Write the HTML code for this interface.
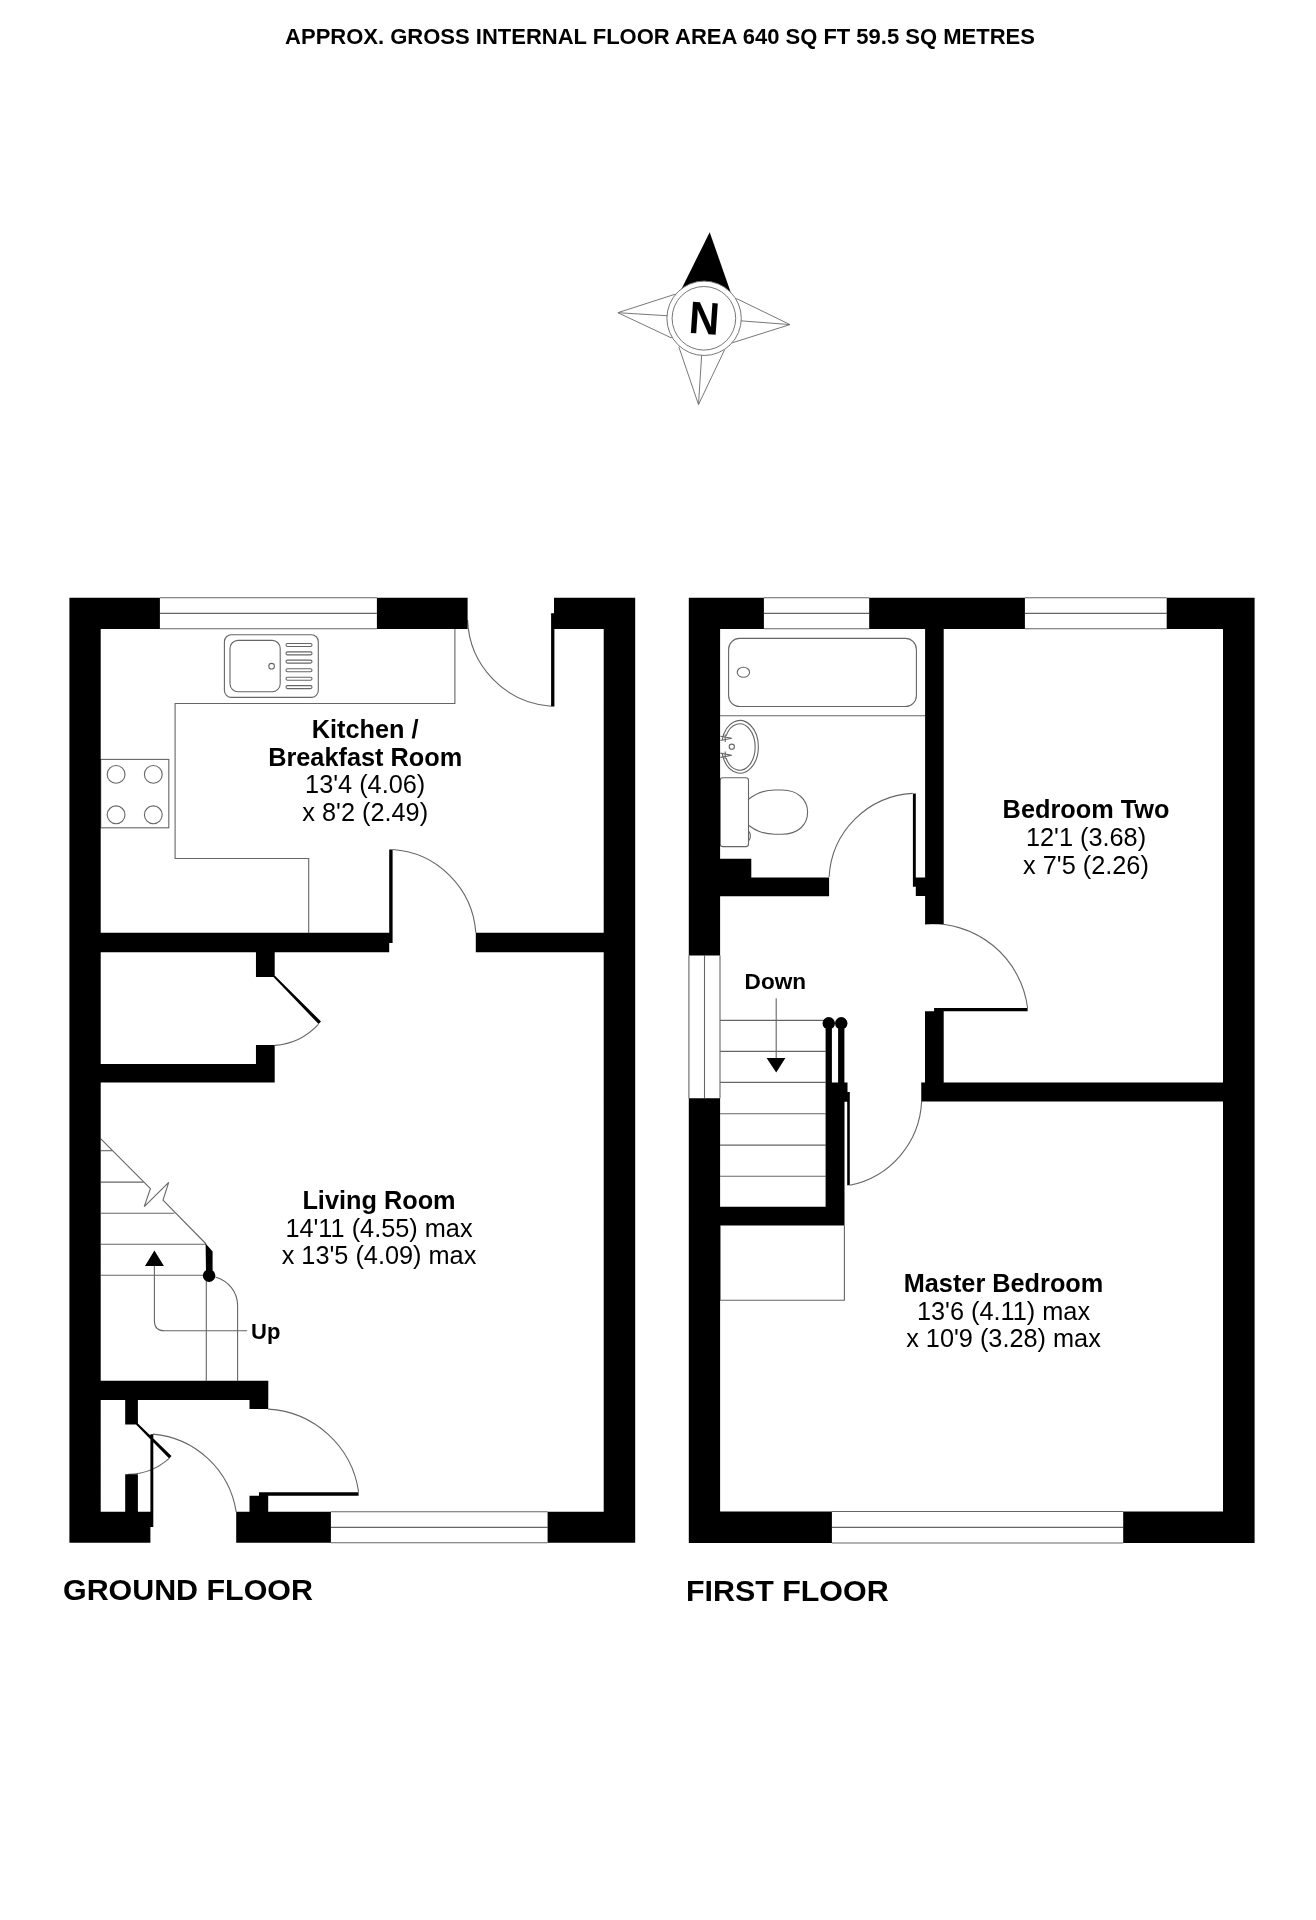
<!DOCTYPE html>
<html><head><meta charset="utf-8"><style>
html,body{margin:0;padding:0;background:#fff;}
svg{display:block;filter:grayscale(1);} 
</style></head><body>
<svg width="1316" height="1920" viewBox="0 0 1316 1920">
<rect width="1316" height="1920" fill="#fff"/>
<g fill="none" stroke="#666" stroke-width="1.1">
<line x1="159.9" y1="597.7" x2="376.9" y2="597.7"/>
<line x1="159.9" y1="613.4" x2="376.9" y2="613.4"/>
<line x1="159.9" y1="628.7" x2="376.9" y2="628.7"/>
<line x1="330.9" y1="1511.7" x2="547.6" y2="1511.7"/>
<line x1="330.9" y1="1527.4" x2="547.6" y2="1527.4"/>
<line x1="330.9" y1="1542.8" x2="547.6" y2="1542.8"/>
<path d="M467.6,620.0 A89.8,89.8 0 0 0 551.2,706.2"/>
<path d="M392.6,849.5 A89.6,89.6 0 0 1 475.8,932.7"/>
<path d="M318.4,1024.3 A66.7,66.7 0 0 1 274.7,1045.4"/>
<path d="M169.2,1458.3 A62.9,62.9 0 0 1 128.3,1474.2"/>
<path d="M152.9,1434.1 A92.2,92.2 0 0 1 236.2,1511.9"/>
<path d="M268.2,1409.1 A96.8,96.8 0 0 1 358.6,1491.8"/>
<rect x="224.4" y="634.7" width="93.9" height="62.7" rx="7"/>
<rect x="230" y="640.4" width="50.2" height="51.3" rx="8"/>
<circle cx="271.6" cy="666.2" r="2.8"/>
<rect x="286" y="643.5" width="26" height="3" rx="1.5"/>
<rect x="286" y="651.9" width="26" height="3" rx="1.5"/>
<rect x="286" y="660.1" width="26" height="3" rx="1.5"/>
<rect x="286" y="668.8" width="26" height="3" rx="1.5"/>
<rect x="286" y="677.2" width="26" height="3" rx="1.5"/>
<rect x="286" y="685.6" width="26" height="3" rx="1.5"/>
<path d="M454.9,628.6 V703.5 H175.1 V858.5 H308.7 V932.8"/>
<rect x="100.7" y="759.4" width="68.1" height="68.4"/>
<circle cx="116.1" cy="774.4" r="8.9"/>
<circle cx="116.1" cy="814.8" r="8.9"/>
<circle cx="153.3" cy="774.4" r="8.9"/>
<circle cx="153.3" cy="814.8" r="8.9"/>
<line x1="100.7" y1="1150.7" x2="112.2" y2="1150.7"/>
<line x1="100.7" y1="1182.1" x2="143.6" y2="1182.1"/>
<line x1="100.7" y1="1213.2" x2="174.4" y2="1213.2"/>
<line x1="100.7" y1="1244.2" x2="206.1" y2="1244.2"/>
<line x1="100.7" y1="1275.3" x2="204.0" y2="1275.3"/>
<path d="M100.85,1138.9 L150.4,1188.7 L144.2,1206.6 L168.7,1182.4 L163,1200.1 L206.1,1244"/>
<line x1="206.3" y1="1275.0" x2="206.3" y2="1380.8"/>
<path d="M215.4,1277 C228,1281 237.6,1291 237.6,1306 V1380.8"/>
<path d="M154.4,1265 V1320.7 Q154.4,1330.7 164.4,1330.7 H247.2"/>
<line x1="763.9" y1="597.7" x2="869.2" y2="597.7"/>
<line x1="1024.9" y1="597.7" x2="1166.7" y2="597.7"/>
<line x1="763.9" y1="613.4" x2="869.2" y2="613.4"/>
<line x1="1024.9" y1="613.4" x2="1166.7" y2="613.4"/>
<line x1="763.9" y1="628.7" x2="869.2" y2="628.7"/>
<line x1="1024.9" y1="628.7" x2="1166.7" y2="628.7"/>
<line x1="688.9" y1="955.5" x2="688.9" y2="1098.3"/>
<line x1="704.5" y1="955.5" x2="704.5" y2="1098.3"/>
<line x1="720.0" y1="955.5" x2="720.0" y2="1098.3"/>
<line x1="831.9" y1="1511.5" x2="1123.2" y2="1511.5"/>
<line x1="831.9" y1="1527.4" x2="1123.2" y2="1527.4"/>
<line x1="831.9" y1="1543.0" x2="1123.2" y2="1543.0"/>
<path d="M829.1,877.0 A88.5,88.5 0 0 1 912.7,793.4"/>
<path d="M925.0,924.1 A96.1,96.1 0 0 1 1027.6,1008.0"/>
<line x1="720.1" y1="1020.4" x2="825.7" y2="1020.4"/>
<line x1="720.1" y1="1051.4" x2="825.7" y2="1051.4"/>
<line x1="720.1" y1="1082.4" x2="825.7" y2="1082.4"/>
<line x1="720.1" y1="1113.8" x2="825.7" y2="1113.8"/>
<line x1="720.1" y1="1145.1" x2="825.7" y2="1145.1"/>
<line x1="720.1" y1="1176.2" x2="825.7" y2="1176.2"/>
<path d="M849.8,1185.2 A89.3,89.3 0 0 0 921.6,1101.6 V1082.6"/>
<path d="M720.1,1225.5 V1300.3 H844.4 V1225.5"/>
<line x1="776.2" y1="998.2" x2="776.2" y2="1059.0"/>
<rect x="728.6" y="638.4" width="187.8" height="68.1" rx="11"/>
<ellipse cx="743.4" cy="672.3" rx="6.2" ry="5"/>
<line x1="720.1" y1="715.8" x2="925.1" y2="715.8"/>
<path d="M722.2,740 A18.4,26.3 0 1 1 722.2,753.6"/>
<path d="M726.0,736 A15.5,23.2 0 1 1 726.0,758"/>
<circle cx="731.8" cy="746.7" r="2.6"/>
<path d="M720.5,736.2 L731.8,738.3 L720.5,740.5"/>
<path d="M720.5,753.1 L731.8,755.2 L720.5,757.4"/>
<line x1="725.2" y1="734.5" x2="725.2" y2="742.0"/>
<line x1="725.2" y1="751.5" x2="725.2" y2="759.0"/>
<rect x="720.2" y="777.8" width="28.3" height="68.8" rx="2.6"/>
<path d="M749.2,831.5 Q751.5,836 749.2,840.5"/>
<path d="M748.5,799.3 C755,794 762,790 775,790 L782,790 C798,790 807.6,800 807.6,812 C807.6,825 798,834.2 782,834.2 L775,834.2 C762,834.2 755,830 748.5,825.2"/>
</g>
<g fill="#000" stroke="none">
<path d="M69.40,597.70H159.90V628.90H69.40Z M376.90,597.70H467.60V628.90H376.90Z M554.00,597.70H635.20V628.90H554.00Z M69.40,597.70H100.70V1542.80H69.40Z M603.70,597.70H635.20V1542.80H603.70Z M69.40,1511.70H150.40V1542.80H69.40Z M236.20,1511.70H330.90V1542.80H236.20Z M547.60,1511.70H635.20V1542.80H547.60Z M551.10,613.20H554.40V706.50H551.10Z M100.70,932.80H389.20V952.20H100.70Z M475.80,932.80H603.70V952.20H475.80Z M389.20,849.40H392.60V943.10H389.20Z M255.96,952.20H274.70V976.90H255.96Z M272.00,975.50 L274.70,975.50 L321.00,1021.50 L318.60,1024.10Z M255.96,1045.10H274.70V1082.50H255.96Z M100.70,1063.90H274.70V1082.50H100.70Z M100.70,1380.80H268.30V1400.10H100.70Z M249.50,1400.00H268.20V1409.10H249.50Z M125.20,1400.00H137.90V1424.60H125.20Z M135.00,1423.60 L137.90,1423.60 L171.50,1456.10 L169.20,1458.40Z M125.20,1474.20H137.90V1511.80H125.20Z M150.40,1434.20H153.30V1527.10H150.40Z M259.00,1492.30H358.60V1495.80H259.00Z M249.50,1495.80H268.20V1511.70H249.50Z M205.60,1243.60 L212.60,1251.50 L212.60,1272.00 L206.00,1272.00Z M202.80,1275.60 A6.3,6.3 0 0 1 215.40,1275.60 A6.3,6.3 0 0 1 202.80,1275.60Z M163.90,1265.90 L145.00,1265.90 L154.40,1250.60Z M688.80,597.70H763.90V628.90H688.80Z M869.20,597.70H1024.90V628.90H869.20Z M1166.70,597.70H1254.60V628.90H1166.70Z M1223.00,597.70H1254.60V1543.00H1223.00Z M688.80,597.70H720.10V955.50H688.80Z M688.80,1098.30H720.10V1543.00H688.80Z M688.80,1511.50H831.90V1543.00H688.80Z M1123.20,1511.50H1254.60V1543.00H1123.20Z M925.10,628.90H943.70V924.10H925.10Z M915.80,877.50H925.10V896.10H915.80Z M912.90,793.50H915.80V886.80H912.90Z M720.10,877.50H829.10V896.30H720.10Z M720.10,858.80H751.30V877.50H720.10Z M934.10,1008.00H1027.60V1011.20H934.10Z M925.00,1011.20H943.70V1101.60H925.00Z M921.60,1082.60H1223.00V1101.60H921.60Z M825.60,1023.00H831.90V1082.40H825.60Z M838.10,1023.00H844.40V1082.40H838.10Z M822.50,1023.30 A6.25,6.25 0 0 1 835.00,1023.30 A6.25,6.25 0 0 1 822.50,1023.30Z M835.00,1023.30 A6.25,6.25 0 0 1 847.50,1023.30 A6.25,6.25 0 0 1 835.00,1023.30Z M825.60,1082.40H844.50V1225.50H825.60Z M844.40,1082.40H847.50V1092.00H844.40Z M844.40,1092.00H849.80V1101.70H844.40Z M720.10,1206.80H844.40V1225.50H720.10Z M847.20,1101.60H849.80V1185.20H847.20Z M766.60,1058.00 L785.40,1058.00 L776.20,1072.40Z"/>
</g>
<g opacity="0.999">
<g stroke="#777" stroke-width="1" fill="none">
<polygon points="617.9,312.7 675.2,294.2 704,318 671.1,337.8" fill="#fff"/>
<line x1="617.9" y1="312.7" x2="704" y2="318"/>
<polygon points="790,324.6 736.8,298.7 704,318 732.2,342.8" fill="#fff"/>
<line x1="790" y1="324.6" x2="704" y2="318"/>
<polygon points="698.5,404.6 679,347.4 704,318 724.3,350.4" fill="#fff"/>
<line x1="698.5" y1="404.6" x2="704" y2="318"/>
</g>
<polygon points="709.7,232.2 680,292 732,296" fill="#000"/>
<circle cx="704.1" cy="318.3" r="37.2" fill="#fff" stroke="#777" stroke-width="1"/>
<circle cx="703.9" cy="318.3" r="31.8" fill="#fff" stroke="#777" stroke-width="1"/>
<text x="704.4" y="333.9" transform="rotate(4 704.4 318.3) translate(704.4 0) scale(0.93 1) translate(-704.4 0)" text-anchor="middle" font-family="Liberation Sans" font-weight="bold" font-size="45.5">N</text>
</g>
<g opacity="0.999">
<g font-family="Liberation Sans" fill="#000">
<text x="660" y="44.4" text-anchor="middle" font-weight="bold" font-size="22">APPROX. GROSS INTERNAL FLOOR AREA 640 SQ FT 59.5 SQ METRES</text>
<g text-anchor="middle" font-size="25.3">
<text x="365.2" y="738.1" font-weight="bold">Kitchen /</text>
<text x="365.2" y="765.7" font-weight="bold">Breakfast Room</text>
<text x="365.2" y="793.3">13'4 (4.06)</text>
<text x="365.2" y="820.9">x 8'2 (2.49)</text>
<text x="379" y="1208.9" font-weight="bold">Living Room</text>
<text x="379" y="1236.5">14'11 (4.55) max</text>
<text x="379" y="1264.1">x 13'5 (4.09) max</text>
<text x="1086" y="817.9" font-weight="bold">Bedroom Two</text>
<text x="1086" y="846.1">12'1 (3.68)</text>
<text x="1086" y="874.0">x 7'5 (2.26)</text>
<text x="1003.5" y="1292.0" font-weight="bold">Master Bedroom</text>
<text x="1003.5" y="1319.6">13'6 (4.11) max</text>
<text x="1003.5" y="1347.0">x 10'9 (3.28) max</text>
</g>
<text x="63" y="1599.9" font-weight="bold" font-size="30.4">GROUND FLOOR</text>
<text x="686" y="1601.3" font-weight="bold" font-size="30.4">FIRST FLOOR</text>
<text x="744.6" y="988.7" font-weight="bold" font-size="22.6">Down</text>
<text x="251" y="1339" font-weight="bold" font-size="22">Up</text>
</g>
</g>
</svg>
</body></html>
